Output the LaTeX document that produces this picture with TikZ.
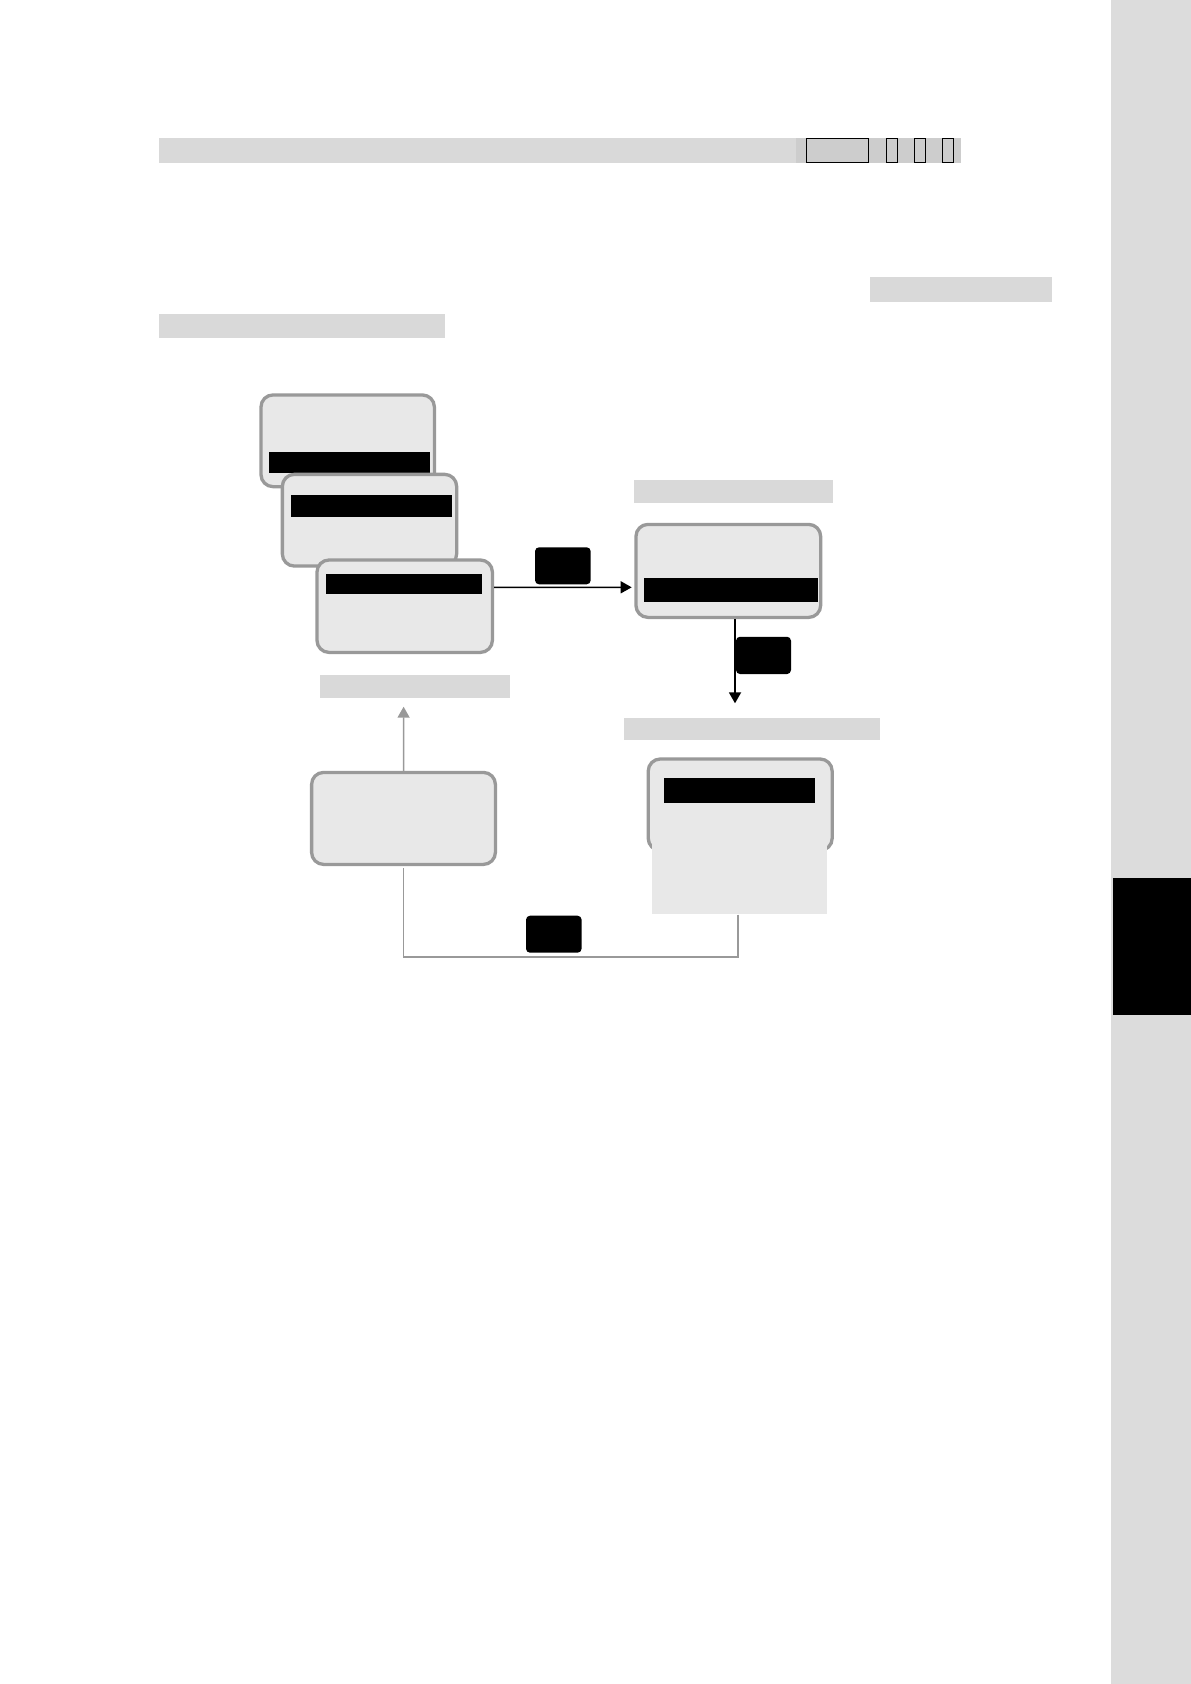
\documentclass[tikz,border=0pt]{standalone}
\usetikzlibrary{arrows.meta}
\definecolor{boxfill}{HTML}{E8E8E8}
\definecolor{boxline}{HTML}{999999}
\definecolor{lblgray}{HTML}{D9D9D9}
\definecolor{bandgray}{HTML}{DCDCDC}
\definecolor{hdrdark}{HTML}{CDCDCD}
\begin{document}
\begin{tikzpicture}[x=1pt,y=-1pt,
  screen/.style={draw=boxline, line width=3.3pt, fill=boxfill, rounded corners=12pt, inner sep=0pt},
  cover/.style={fill=boxfill, draw=none, inner sep=0pt},
  hilite/.style={fill=black, draw=none, inner sep=0pt},
  keybtn/.style={fill=black, draw=none, rounded corners=4pt, inner sep=0pt},
  lbl/.style={fill=lblgray, draw=none, inner sep=0pt},
  hdrbox/.style={fill=hdrdark, draw=black, line width=1pt, inner sep=0pt},
  blackarr/.style={draw=black, line width=1.4pt, -{Triangle[length=11pt,width=12pt]}},
  grayarr/.style={draw=boxline, line width=1.5pt, -{Triangle[length=11pt,width=12pt]}},
  grayline/.style={draw=boxline, line width=1.5pt}
]
\useasboundingbox (0,0) rectangle (1191,1684);
\fill[white] (0,0) rectangle (1191,1684);

% right side band and tab
\node[fill=bandgray, inner sep=0pt, minimum width=80pt, minimum height=1684pt] (band) at (1151,842) {};
\node[fill=black, inner sep=0pt, minimum width=78.3pt, minimum height=137.3pt] (tab) at (1151.85,946.35) {};

% header bar
\node[lbl, minimum width=802pt, minimum height=24.6pt] (hdr) at (560,150.3) {};
\node[fill=hdrdark, inner sep=0pt, minimum width=164.7pt, minimum height=24.6pt] (hdrR) at (878.35,150.3) {};
\node[hdrbox, minimum width=62pt, minimum height=24pt] (h1) at (837.3,150.3) {};
\node[hdrbox, minimum width=11.3pt, minimum height=24pt] (h2) at (891.65,150.3) {};
\node[hdrbox, minimum width=11pt, minimum height=24pt] (h3) at (919.5,150.3) {};
\node[hdrbox, minimum width=11pt, minimum height=24pt] (h4) at (947.8,150.3) {};

% text-line bars
\node[lbl, minimum width=182pt, minimum height=25.3pt] (bar2) at (961,289.35) {};
\node[lbl, minimum width=285.6pt, minimum height=24.7pt] (bar3) at (301.8,325.95) {};

% stacked screens
\node[screen, minimum width=173.4pt, minimum height=91.7pt] (A) at (347.7,440.8) {};
\node[hilite, minimum width=161pt, minimum height=21pt] (Abar) at (349.5,462.2) {};
\node[screen, minimum width=174.3pt, minimum height=91.7pt] (B) at (369.5,520.2) {};
\node[hilite, minimum width=161pt, minimum height=21.7pt] (Bbar) at (371.5,505.9) {};
\node[screen, minimum width=175.4pt, minimum height=92.4pt] (C) at (404.7,606.2) {};
\node[hilite, minimum width=156pt, minimum height=20.3pt] (Cbar) at (404,584.2) {};
\node[lbl, minimum width=189.3pt, minimum height=22.7pt] (lblC) at (415,686.4) {};

% screen D
\node[lbl, minimum width=198.4pt, minimum height=22.7pt] (lblD) at (733.5,491.35) {};
\node[screen, minimum width=184.7pt, minimum height=93pt] (D) at (728.3,570.9) {};
\node[hilite, minimum width=174.3pt, minimum height=24.3pt] (Dbar) at (731.2,589.9) {};

% screen F
\node[lbl, minimum width=255.5pt, minimum height=22pt] (lblF) at (751.8,729) {};
\node[screen, minimum width=183.9pt, minimum height=91.4pt] (F) at (740.2,804.7) {};
\node[hilite, minimum width=151.2pt, minimum height=25.3pt] (Fbar) at (739.4,790.4) {};
\node[cover, minimum width=174.5pt, minimum height=78.3pt] (G) at (739.3,875.2) {};

% screen E
\node[screen, minimum width=183.8pt, minimum height=92pt] (E) at (403.5,818.4) {};

% key buttons
\node[keybtn, minimum width=55.7pt, minimum height=37pt] (k1) at (562.85,565.8) {};
\node[keybtn, minimum width=55pt, minimum height=37.3pt] (k2) at (763.5,655.4) {};
\node[keybtn, minimum width=55.6pt, minimum height=37pt] (k3) at (553.8,934.2) {};

% connectors
\coordinate (dtip) at (735,703.3);
\coordinate (etip) at (403.6,706.7);
\draw[blackarr] ([yshift=18.9pt]C.east) -- ([xshift=-2.6pt,yshift=-16.4pt]D.west);
\draw[blackarr, line width=1.8pt] (D.south -| dtip) -- (dtip);
\draw[grayarr] (E.north) -- (etip);
\draw[grayline] ([xshift=-1.3pt]G.south) -- ++(0,42.4) -| ([yshift=-1.65pt]E.south);
\end{tikzpicture}
\end{document}
